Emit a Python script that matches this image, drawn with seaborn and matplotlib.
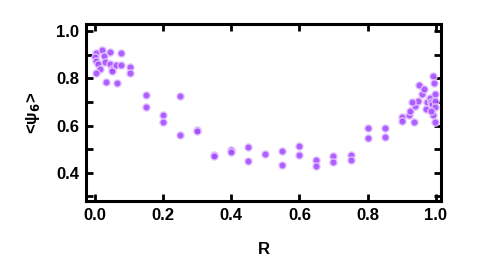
import numpy as np
import pandas as pd
import matplotlib
matplotlib.use("Agg")
import matplotlib.pyplot as plt
import seaborn as sns
from matplotlib.ticker import MultipleLocator

# values
R = [0.005, 0.0, 0.003, 0.008, 0.015, 0.005, 0.02, 0.026, 0.029, 0.034,
     0.044, 0.044, 0.05, 0.05, 0.062, 0.064, 0.077, 0.077, 0.103, 0.103,
     0.15, 0.15, 0.2, 0.2, 0.25, 0.25, 0.3, 0.3, 0.35, 0.35,
     0.4, 0.4, 0.45, 0.45, 0.5, 0.55, 0.55, 0.6, 0.6, 0.65,
     0.65, 0.7, 0.7, 0.75, 0.75, 0.8, 0.8, 0.85, 0.85,
     0.9, 0.9, 0.92, 0.923, 0.935, 0.938, 0.948, 0.951, 0.96, 0.966,
     0.972, 0.975, 0.982, 0.987, 0.99, 0.992, 0.995, 0.998, 0.998, 0.997,
     0.992, 0.997, 0.985, 0.93]
psi6 = [0.906, 0.89, 0.875, 0.86, 0.84, 0.824, 0.92, 0.894, 0.87, 0.786,
        0.911, 0.86, 0.838, 0.83, 0.856, 0.782, 0.906, 0.855, 0.849, 0.824,
        0.728, 0.677, 0.644, 0.617, 0.726, 0.559, 0.582, 0.578, 0.476, 0.471,
        0.497, 0.49, 0.508, 0.449, 0.48, 0.493, 0.435, 0.515, 0.476, 0.455,
        0.43, 0.472, 0.447, 0.477, 0.452, 0.589, 0.549, 0.591, 0.553,
        0.636, 0.618, 0.645, 0.663, 0.617, 0.683, 0.705, 0.772, 0.733, 0.754,
        0.669, 0.70, 0.716, 0.70, 0.69, 0.81, 0.782, 0.734, 0.705, 0.68,
        0.645, 0.617, 0.66, 0.699]

df = pd.DataFrame({"R": R, "psi6": psi6})

sns.set_style("ticks")
plt.rcParams["font.family"] = ["Liberation Sans", "DejaVu Sans"]
plt.rcParams["font.weight"] = "bold"
plt.rcParams["mathtext.default"] = "bf"
plt.rcParams["text.color"] = "black"
plt.rcParams["axes.labelcolor"] = "black"
plt.rcParams["xtick.color"] = "black"
plt.rcParams["ytick.color"] = "black"
plt.rcParams["axes.edgecolor"] = "black"

fig = plt.figure(figsize=(4.91, 2.71), dpi=100)
ax = fig.add_axes([0.175, 0.258, 0.723, 0.653])

sns.scatterplot(data=df, x="R", y="psi6", ax=ax, color="#a64dff",
                edgecolor="#e4c6ff", linewidth=1.0, s=27, alpha=0.9, zorder=3)

ax.set_xlim(-0.026, 1.015)
ax.set_ylim(0.28, 1.03)
ax.xaxis.set_major_locator(MultipleLocator(0.2))
ax.set_yticks([0.4, 0.6, 0.8, 1.0])
ax.yaxis.set_minor_locator(MultipleLocator(0.1))

for s in ax.spines.values():
    s.set_linewidth(2.2)
    s.set_color("black")
    s.set_visible(True)
ax.tick_params(which="both", direction="in", top=True, right=True,
               width=2.0, labelsize=12, pad=5, colors="black")
ax.tick_params(which="major", length=5)
ax.tick_params(which="minor", length=5)
for lab in ax.get_xticklabels() + ax.get_yticklabels():
    lab.set_fontweight("bold")

ax.set_xlabel("R", fontsize=12, fontweight="bold", labelpad=14)
ax.set_ylabel("<ψ$_6$>", fontsize=12, fontweight="bold", labelpad=10)

fig.savefig("out.png", dpi=100)
